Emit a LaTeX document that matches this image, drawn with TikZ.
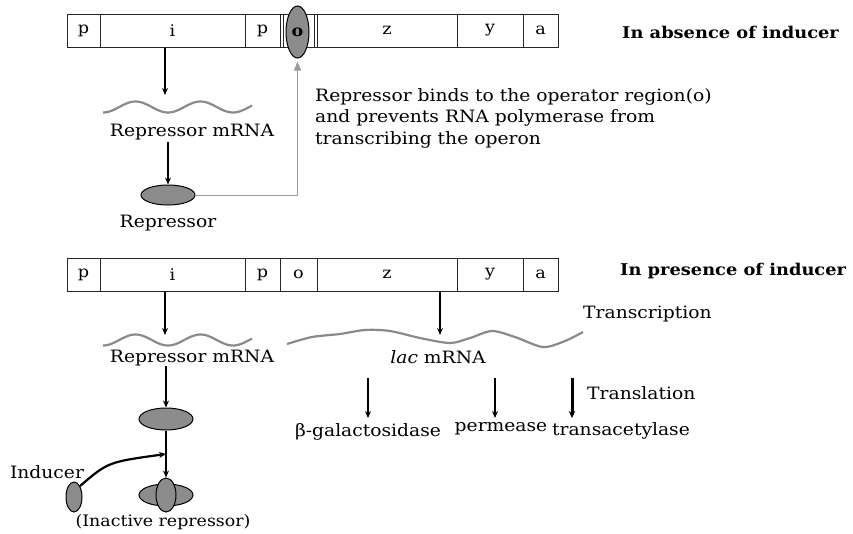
\documentclass[tikz,border=0pt]{standalone}
\usepackage{fontspec}
\setmainfont{DejaVu Serif}[FakeStretch=1.1]
\usetikzlibrary{shapes.geometric,arrows.meta}
\definecolor{ovgrey}{HTML}{8C8C8C}
\definecolor{wavegrey}{HTML}{8A8A8A}
\definecolor{arrgrey}{HTML}{9A9A9A}
\begin{document}
\begin{tikzpicture}[x=1pt,y=-1pt,
  seg/.style={draw=black!85, line width=1pt, minimum height=33pt, inner sep=0pt, font=\fontsize{16}{16}\selectfont},
  blk/.style={line width=2.5pt, -{Stealth[length=7pt,width=6pt]}},
  garrow/.style={draw=arrgrey, line width=1pt, -{Triangle[length=9pt,width=7pt,fill=arrgrey]}},
  wave/.style={draw=wavegrey, line width=2.2pt},
  body/.style={font=\fontsize{17}{21.5}\selectfont, inner sep=0pt},
  head/.style={font=\fontsize{16.2}{17}\selectfont\bfseries, inner sep=0pt, anchor=west},
  prot/.style={ellipse, draw=black, line width=1pt, fill=ovgrey, inner sep=0pt}
]
\useasboundingbox (0,0) rectangle (853,533);

% ---------- top bar ----------
\node[seg, minimum width=33pt]  (tp1) at (83.5,30.5)  {p};
\node[seg, minimum width=145pt] (ti)  at (172.5,30.5) {i};
\node[seg, minimum width=35pt]  (tp2) at (262.5,30.5) {p};
\node[seg, minimum width=37pt]  (to)  at (298.5,30.5) {};
\node[seg, minimum width=140pt] (tz)  at (387,30.5)   {z};
\node[seg, minimum width=66pt]  (ty)  at (490,30.5)   {y};
\node[seg, minimum width=35pt]  (ta)  at (540.5,30.5) {a};
\draw[black!85, line width=1pt] ([xshift=3.5pt]to.north west) -- ([xshift=3.5pt]to.south west);
\draw[black!85, line width=1pt] ([xshift=-3.5pt]to.north east) -- ([xshift=-3.5pt]to.south east);
\node[prot, minimum width=23pt, minimum height=52pt, font=\fontsize{16}{16}\selectfont\bfseries] (op) at (297.5,32) {o};

\node[head] (h1) at (622,32) {In absence of inducer};

% top left pathway
\coordinate (w1) at (165,95);
\draw[blk] ([xshift=-7.5pt]ti.south) -- (w1);
\draw[wave] plot[domain=103:252, samples=80] (\x, {107+5.5*cos(5.538*(\x-103))});
\node[body] (rm1) at (192,132) {Repressor mRNA};
\node[prot, minimum width=54pt, minimum height=20pt] (rep) at (168,195) {};
\coordinate (r1s) at (168,142);
\draw[blk] (r1s) -- (rep.north);
\node[body] (rl) at (168,223) {Repressor};
\draw[garrow] (rep.east) -- (rep.east -| op.south) -- ([yshift=-3pt]op.south);
\node[body, align=left, anchor=west] (expl) at (315,118)
  {Repressor binds to the operator region(o)\\and prevents RNA polymerase from\\transcribing the operon};

% ---------- bottom bar ----------
\node[seg, minimum width=33pt]  (bp1) at (83.5,274.5)  {p};
\node[seg, minimum width=145pt] (bi)  at (172.5,274.5) {i};
\node[seg, minimum width=35pt]  (bp2) at (262.5,274.5) {p};
\node[seg, minimum width=37pt]  (bo)  at (298.5,274.5) {o};
\node[seg, minimum width=140pt] (bz)  at (387,274.5)   {z};
\node[seg, minimum width=66pt]  (by)  at (490,274.5)   {y};
\node[seg, minimum width=35pt]  (ba)  at (540.5,274.5) {a};

\node[head] (h2) at (620,271) {In presence of inducer};

% bottom left pathway
\coordinate (w2) at (165,335);
\draw[blk] ([xshift=-7.5pt]bi.south) -- (w2);
\draw[wave] plot[domain=103:252, samples=80] (\x, {340+5.5*cos(5.538*(\x-103))});
\node[body] (rm2) at (192,358) {Repressor mRNA};
\node[prot, minimum width=54pt, minimum height=22pt] (rep2) at (166,419) {};
\coordinate (r2s) at (166,366);
\draw[blk] (r2s) -- (rep2.north);
\node[prot, minimum width=54pt, minimum height=22pt] (inact) at (166,495) {};
\node[prot, minimum width=20pt, minimum height=34pt] (inactv) at (166,495) {};
\draw[blk] (rep2.south) -- (inactv.north);
\coordinate (join) at (166,454);
\node[prot, minimum width=16pt, minimum height=30pt] (ind) at (74,497) {};
\draw[line width=2.2pt, -{Stealth[length=7pt,width=6pt]}] (ind.north east) .. controls (108,462) .. (join);
\node[body] (indl) at (47,472) {Inducer};
\node[body, font=\fontsize{15.8}{16}\selectfont] (inl) at (163,522) {(Inactive repressor)};

% right pathway
\coordinate (w3) at (440,335);
\draw[blk] (bz.south -| w3) -- (w3);
\draw[wave] plot[smooth] coordinates {(287,344) (312,337) (340,334) (365,330) (390,331) (420,338) (450,343) (470,338) (492,331) (515,337) (543,347) (565,341) (583,332)};
\node[body] (lac) at (438,357) {\textit{lac} mRNA};
\node[body, anchor=west] (trs) at (583,314) {Transcription};
\node[body, anchor=west] (trl) at (587,393) {Translation};
\node[body] (bgal) at (368,432) {β-galactosidase};
\node[body] (perm) at (501,429) {permease};
\node[body] (trans) at (621,431) {transacetylase};
\coordinate (g1) at (368,378); \coordinate (g2) at (368,418);
\coordinate (p1) at (495,378); \coordinate (p2) at (495,418);
\coordinate (t1) at (572,378); \coordinate (t2) at (572,418);
\draw[blk] (g1) -- (g2);
\draw[blk] (p1) -- (p2);
\draw[line width=3pt, -{Stealth[length=7pt,width=6.5pt]}] (t1) -- (t2);
\end{tikzpicture}
\end{document}
